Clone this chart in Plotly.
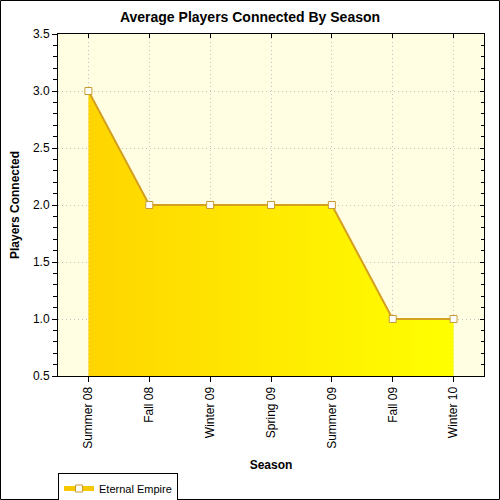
import plotly.graph_objects as go

seasons = ["Summer 08", "Fall 08", "Winter 09", "Spring 09", "Summer 09", "Fall 09", "Winter 10"]
players = [3.0, 2.0, 2.0, 2.0, 2.0, 1.0, 1.0]
series_name = "Eternal Empire"

W = H = 500
# plot area in pixels
PX0, PX1, PY0, PY1 = 58, 484, 34, 376
xdom = [PX0 / W, PX1 / W]
ydom = [1 - PY1 / H, 1 - PY0 / H]

fig = go.Figure()
fig.add_trace(go.Scatter(
    x=seasons, y=players, mode="lines+markers", name=series_name,
    fill="tozeroy",
    fillgradient=dict(type="horizontal", colorscale=[[0, "#ffd500"], [1, "#ffff00"]]),
    line=dict(color="#d4a020", width=2),
    marker=dict(symbol="square", size=7, color="white", line=dict(color="#c89b30", width=1)),
    showlegend=False,
))
# legend entry
fig.add_trace(go.Scatter(
    x=[None], y=[None], mode="lines+markers", name=series_name,
    line=dict(color="#f5c800", width=5),
    marker=dict(symbol="square", size=7, color="white", line=dict(color="#c89b30", width=1)),
))
# mirrored axes for inside ticks on top/right
fig.add_trace(go.Scatter(x=seasons, y=players, xaxis="x2", yaxis="y2",
                         mode="none", showlegend=False, hoverinfo="skip"))

font = "Liberation Sans, Arial, sans-serif"
grid = dict(showgrid=True, gridcolor="#c4c4c4", griddash="1px,3px", gridwidth=1)
fig.update_layout(
    width=W, height=H,
    margin=dict(l=0, r=0, t=0, b=0, autoexpand=False),
    paper_bgcolor="white",
    plot_bgcolor="#fffee2",
    font=dict(family=font, size=12, color="black"),
    title=dict(text="<b>Average Players Connected By Season</b>", x=0.5, xref="paper",
               xanchor="center", y=1 - 17 / H, yanchor="middle",
               font=dict(size=14, family=font, color="black")),
    xaxis=dict(
        domain=xdom,
        type="category", range=[-0.5, 6.5], tickangle=-90,
        showline=True, linecolor="black", linewidth=1,
        ticks="outside", ticklen=5, tickcolor="black",
        tickfont=dict(size=12, family=font),
        title=dict(text="<b>Season</b>", font=dict(size=12, family=font), standoff=12),
        automargin=False, zeroline=False, **grid,
    ),
    yaxis=dict(
        domain=ydom,
        range=[0.5, 3.5], dtick=0.5, tick0=0.5, tickformat=".1f",
        showline=True, linecolor="black", linewidth=1,
        ticks="outside", ticklen=5, tickcolor="black",
        minor=dict(dtick=0.1, ticks="outside", ticklen=4, tickcolor="black", showgrid=False),
        tickfont=dict(size=12, family=font),
        title=dict(text="<b>Players Connected</b>", font=dict(size=12, family=font), standoff=10),
        automargin=False, zeroline=False, **grid,
    ),
    xaxis2=dict(
        domain=xdom,
        type="category", range=[-0.5, 6.5], overlaying="x", side="top", anchor="y",
        showline=True, linecolor="black", linewidth=1,
        ticks="inside", ticklen=4, tickcolor="black", showticklabels=False,
        showgrid=False, zeroline=False,
    ),
    yaxis2=dict(
        domain=ydom,
        range=[0.5, 3.5], dtick=0.5, tick0=0.5, overlaying="y", side="right", anchor="x",
        showline=True, linecolor="black", linewidth=1,
        ticks="inside", ticklen=4, tickcolor="black", showticklabels=False,
        minor=dict(dtick=0.1, ticks="inside", ticklen=3, tickcolor="black"),
        showgrid=False, zeroline=False,
    ),
    legend=dict(
        x=PX0 / W, y=1 - 473 / H, xanchor="left", yanchor="top",
        bgcolor="white", bordercolor="black", borderwidth=1,
        font=dict(size=11, family=font), itemwidth=30,
        tracegroupgap=0,
    ),
    shapes=[dict(type="rect", xref="paper", yref="paper",
                 x0=0.5 / W, x1=1 - 0.5 / W, y0=0.5 / H, y1=1 - 0.5 / H,
                 line=dict(color="black", width=1), layer="above")],
)

fig.write_html("out.html")
